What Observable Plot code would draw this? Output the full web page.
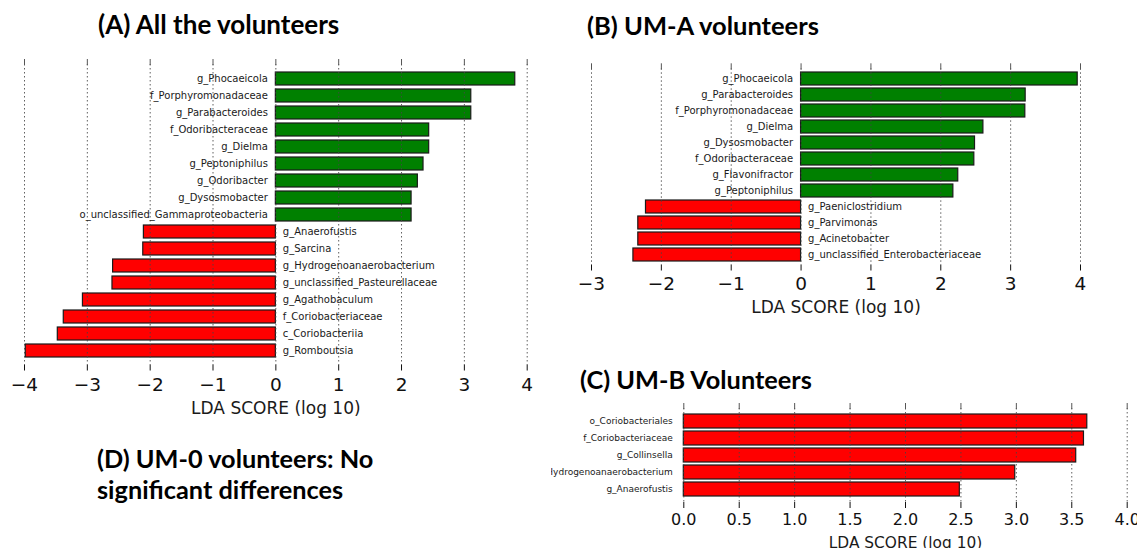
<!DOCTYPE html>
<html><head><meta charset="utf-8">
<script src="https://cdn.jsdelivr.net/npm/d3@7"></script>
<script src="https://cdn.jsdelivr.net/npm/@observablehq/plot@0.6"></script>
<style>
html,body{margin:0;padding:0;background:#fff;}
#fig{position:relative;width:1137px;height:548px;overflow:hidden;background:#fff;}
.title{position:absolute;font-family:Lato,"Open Sans",sans-serif;font-weight:700;color:#000;white-space:nowrap;line-height:1.2;transform:translateY(-50%);}
.panel{position:absolute;}
.panel text{font-family:"DejaVu Sans",sans-serif;}
</style></head><body><div id="fig"></div>
<script>
// ---------- data ----------
const namesA = ["g_Phocaeicola","f_Porphyromonadaceae","g_Parabacteroides","f_Odoribacteraceae","g_Dielma","g_Peptoniphilus","g_Odoribacter","g_Dysosmobacter","o_unclassified_Gammaproteobacteria","g_Anaerofustis","g_Sarcina","g_Hydrogenoanaerobacterium","g_unclassified_Pasteurellaceae","g_Agathobaculum","f_Coriobacteriaceae","c_Coriobacteriia","g_Romboutsia"];
const valuesA = [3.81, 3.11, 3.11, 2.44, 2.44, 2.35, 2.26, 2.16, 2.16, -2.10, -2.11, -2.59, -2.60, -3.07, -3.375, -3.47, -3.98];
const ticksA = [-4, -3, -2, -1, 0, 1, 2, 3, 4];

const namesB = ["g_Phocaeicola","g_Parabacteroides","f_Porphyromonadaceae","g_Dielma","g_Dysosmobacter","f_Odoribacteraceae","g_Flavonifractor","g_Peptoniphilus","g_Paeniclostridium","g_Parvimonas","g_Acinetobacter","g_unclassified_Enterobacteriaceae"];
const valuesB = [3.96, 3.215, 3.21, 2.61, 2.49, 2.48, 2.25, 2.18, -2.22, -2.33, -2.33, -2.40];
const ticksB = [-3, -2, -1, 0, 1, 2, 3, 4];

const namesC = ["o_Coriobacteriales","f_Coriobacteriaceae","g_Collinsella","g_Hydrogenoanaerobacterium","g_Anaerofustis"];
const valuesC = [3.64, 3.61, 3.54, 2.99, 2.49];
const ticksC = [0, 0.5, 1, 1.5, 2, 2.5, 3, 3.5, 4];

const axisTitle = "LDA SCORE (log 10)";
const titleA = "(A) All the volunteers";
const titleB = "(B) UM-A volunteers";
const titleC = "(C) UM-B Volunteers";
const titleD = ["(D) UM-0 volunteers: No", "significant differences"];

// ---------- drawing ----------
const GREEN = "#008000", RED = "#ff0000";
const fmtInt = d => d < 0 ? "\u2212" + Math.abs(d) : String(d);
const fmtDec = d => d.toFixed(1);

function panel(o) {
  const data = o.names.map((n, i) => ({name: n, value: o.values[i]}));
  const ff = "DejaVu Sans";
  return Plot.plot({
    width: o.width, height: o.height,
    marginTop: o.mt, marginBottom: o.mb, marginLeft: o.ml, marginRight: o.mr,
    style: {fontFamily: ff, background: "transparent", overflow: "hidden"},
    x: {domain: [o.ticks[0], o.ticks[o.ticks.length - 1]]},
    y: {domain: o.names, paddingInner: o.pi, paddingOuter: o.po, axis: null},
    color: {type: "identity"},
    marks: [
      Plot.barX(data, {x1: d => 0, x2: "value", y: "name", fill: d => d.value > 0 ? o.posColor : RED, stroke: "#1a1a1a", strokeWidth: 1.2}),
      Plot.ruleX(o.ticks, {stroke: "#444", strokeDasharray: "1.5,2.5", strokeWidth: 1, strokeOpacity: 0.85}),
      Plot.axisX(o.ticks, {anchor: "bottom", tickSize: 6, tickPadding: o.tp, tickFormat: o.fmt, fontSize: o.tickFont, fontFamily: ff, color: "#111", label: null}),
      Plot.axisX(o.ticks, {anchor: "top", tickSize: 6, tickFormat: () => "", color: "#555", label: null}),
      Plot.text(data, {filter: d => d.value > 0, x: d => 0, y: "name", text: "name", textAnchor: "end", dx: o.dxPos, fontSize: o.labelFont, fontFamily: ff, fill: "#1a1a1a"}),
      Plot.text(data, {filter: d => d.value < 0, x: d => 0, y: "name", text: "name", textAnchor: "start", dx: o.dxNeg, fontSize: o.labelFont, fontFamily: ff, fill: "#1a1a1a"}),
      Plot.text([axisTitle], {frameAnchor: "bottom", lineAnchor: "middle", dy: o.axDy, fontSize: o.axFont, fontFamily: ff, fill: "#1a1a1a"})
    ]
  });
}

const fig = document.getElementById("fig");
function place(el, left, top) {
  el.classList.add("panel");
  el.style.left = left + "px";
  el.style.top = top + "px";
  fig.appendChild(el);
}

place(panel({names: namesA, values: valuesA, ticks: ticksA, fmt: fmtInt, posColor: GREEN,
  width: 560, height: 420, mt: 64, mb: 55.5, ml: 24, mr: 33.3, pi: 0.22, po: 0.13,
  tp: 6.5, tickFont: 18.5, labelFont: 10, dxPos: -8, dxNeg: 7, axDy: 43.8, axFont: 17}), 0, 0);

place(panel({names: namesB, values: valuesB, ticks: ticksB, fmt: fmtInt, posColor: GREEN,
  width: 577, height: 330, mt: 68.3, mb: 65.5, ml: 31, mr: 57, pi: 0.21, po: 0.23,
  tp: 6, tickFont: 18.5, labelFont: 10, dxPos: -8, dxNeg: 7, axDy: 42.5, axFont: 17}), 560, 0);

place(panel({names: namesC, values: valuesC, ticks: ticksC, fmt: fmtDec, posColor: RED,
  width: 586, height: 158, mt: 18, mb: 46, ml: 132.3, mr: 10.3, pi: 0.2, po: 0.27,
  tp: 5, tickFont: 16, labelFont: 9, dxPos: -11, dxNeg: 7, axDy: 41, axFont: 15.4}), 551, 390);

function title(text, left, cy, size) {
  const d = document.createElement("div");
  d.className = "title";
  d.textContent = text;
  d.style.left = left + "px";
  d.style.top = cy + "px";
  d.style.fontSize = size + "px";
  fig.appendChild(d);
}
title(titleA, 98, 25, 26);
title(titleB, 587, 25, 25.5);
title(titleC, 580, 379, 25.3);
title(titleD[0], 97, 458, 25.3);
title(titleD[1], 97, 489, 25.3);
</script>
</body></html>
